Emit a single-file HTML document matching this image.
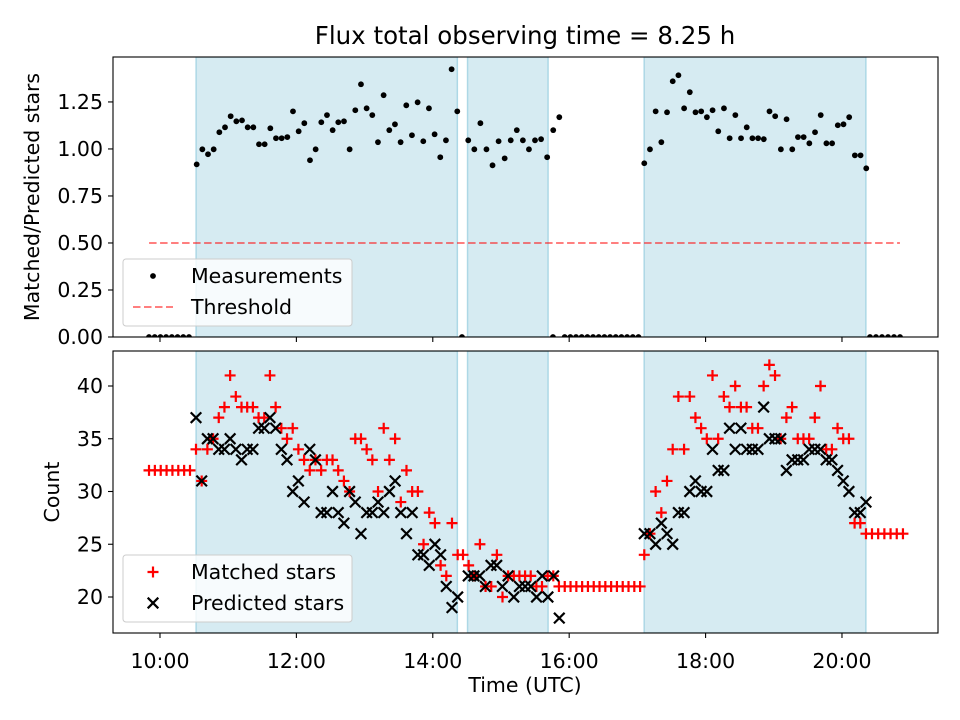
<!DOCTYPE html>
<html><head><meta charset="utf-8"><style>
html,body{margin:0;padding:0;background:#fff;}
svg{display:block;font-family:"DejaVu Sans","Liberation Sans",sans-serif;}
</style></head><body>
<svg id="chart" width="960" height="720" viewBox="0 0 960 720"></svg>
<script>
// ---- data ----
const spans = [[10.53, 14.36], [14.51, 15.69], [17.10, 20.35]];
const ratioSegments = [
  {start: 9.839, end: 10.425, values: [0,0,0,0,0,0,0,0]},
  {start: 10.538, end: 14.359, values: [0.918,0.998,0.972,0.998,1.089,1.115,1.174,1.147,1.152,1.115,1.115,1.025,1.025,1.110,1.057,1.057,1.063,1.20,1.094,1.137,0.94,0.998,1.142,1.18,1.10,1.142,1.147,0.998,1.206,1.344,1.216,1.18,1.036,1.286,1.10,1.131,1.036,1.232,1.073,1.248,1.041,1.216,1.078,0.956,1.046,1.424,1.20]},
  {start: 14.428, end: 14.428, values: [0]},
  {start: 14.520, end: 15.855, values: [1.046,0.998,1.137,0.998,0.913,1.041,0.95,1.046,1.10,1.046,0.998,1.046,1.052,0.956,1.10,1.169]},
  {start: 15.762, end: 15.762, values: [0]},
  {start: 15.934, end: 17.016, values: [0,0,0,0,0,0,0,0,0,0,0,0,0,0]},
  {start: 17.101, end: 20.356, values: [0.924,0.998,1.20,1.036,1.195,1.36,1.392,1.216,1.302,1.195,1.20,1.169,1.206,1.094,1.216,1.057,1.18,1.057,1.115,1.057,1.057,1.052,1.20,1.174,0.998,1.158,0.998,1.063,1.063,1.03,1.089,1.18,1.03,1.03,1.126,1.131,1.169,0.966,0.966,0.897]},
  {start: 20.411, end: 20.851, values: [0,0,0,0,0,0]}
];
const threshold = 0.5;
const thresholdRange = [9.84, 20.85];
const matchedSegments = [
  {start: 9.839, end: 10.44, values: [32,32,32,32,32,32,32,32]},
  {start: 10.528, end: 14.365, values: [34,31,34,35,37,38,41,39,38,38,38,37,37,41,38,36,35,36,34,33,32,33,32,33,33,32,31,30,35,35,34,33,30,36,33,35,29,32,30,30,25,28,27,23,22,27,24]},
  {start: 14.443, end: 15.767, values: [24,23,22,25,21,21,24,20,22,22,22,22,22,21,21,22,22]},
  {start: 15.85, end: 17.04, values: [21,21,21,21,21,21,21,21,21,21,21,21,21,21,21]},
  {start: 17.101, end: 20.352, values: [24,26,30,28,31,34,39,34,39,37,36,35,41,35,39,38,40,38,38,36,36,40,42,41,35,37,38,35,35,35,37,40,34,34,36,35,35,27,27,26]},
  {start: 20.44, end: 20.894, values: [26,26,26,26,26,26]}
];
const predictedSegments = [
  {start: 10.528, end: 14.365, values: [37,31,35,35,34,34,35,34,33,34,34,36,36,37,36,34,33,30,31,29,34,33,28,28,30,28,27,30,29,26,28,28,29,28,30,31,28,26,28,24,24,23,25,24,21,19,20]},
  {start: 14.52, end: 15.855, values: [22,22,22,21,23,23,21,22,20,21,21,21,20,22,20,22,18]},
  {start: 17.101, end: 20.352, values: [26,26,25,27,26,25,28,28,30,31,30,30,34,32,32,36,34,36,34,34,34,38,35,35,35,32,33,33,33,34,34,34,33,33,32,31,30,28,28,29]}
];
const xTicks = [10, 12, 14, 16, 18, 20];
const xTickLabels = ["10:00", "12:00", "14:00", "16:00", "18:00", "20:00"];
const topYTicks = [0, 0.25, 0.5, 0.75, 1.0, 1.25];
const topYTickLabels = ["0.00", "0.25", "0.50", "0.75", "1.00", "1.25"];
const botYTicks = [20, 25, 30, 35, 40];
const botYTickLabels = ["20", "25", "30", "35", "40"];

// ---- layout ----
const L = 113, R = 938;
const TT = 57, TB = 337, BT = 351, BB = 633;
const xMin = 9.311, xMax = 21.408;
const x = t => L + (t - xMin) / (xMax - xMin) * (R - L);
const yTop = v => TB - v / 1.489 * (TB - TT);
const yBot = v => 597 - (v - 20) * 10.55;
const NS = "http://www.w3.org/2000/svg";
const svg = document.getElementById('chart');
const FS = 20.5;
function mk(tag, attrs, parent) {
  const e = document.createElementNS(NS, tag);
  for (const k in attrs) e.setAttribute(k, attrs[k]);
  (parent || svg).appendChild(e);
  return e;
}
function pts(segs) {
  const out = [];
  segs.forEach(s => {
    const n = s.values.length;
    s.values.forEach((v, i) => {
      const t = n > 1 ? s.start + (s.end - s.start) * i / (n - 1) : s.start;
      out.push([t, v]);
    });
  });
  return out;
}
mk('defs', {}).innerHTML = '<clipPath id="cTop"><rect x="113" y="57" width="825" height="280"/></clipPath><clipPath id="cBot"><rect x="113" y="351" width="825" height="282"/></clipPath>';

let title = mk('text', {x: 525, y: 44, 'text-anchor': 'middle', 'font-size': 24.5, fill: '#000'});
title.textContent = 'Flux total observing time = 8.25 h';



function panel(top, bottom, name, clip) {
  const g = mk('g', {'clip-path': 'url(#' + clip + ')'});
  
  
  spans.forEach((s, i) => {
    const r = mk('rect', {x: x(s[0]), y: top, width: x(s[1]) - x(s[0]), height: bottom - top, fill: '#add8e6', 'fill-opacity': 0.5, stroke: '#add8e6', 'stroke-width': 1.5}, g);
    
    
  });
  return g;
}
const gTop = panel(TT, TB, 'top', 'cTop');
const gBot = panel(BT, BB, 'bottom', 'cBot');

const th = mk('line', {x1: x(thresholdRange[0]), x2: x(thresholdRange[1]), y1: yTop(threshold), y2: yTop(threshold), stroke: '#ff0000', 'stroke-opacity': 0.5, 'stroke-width': 2, 'stroke-dasharray': '7.5,3.5'}, gTop);



pts(ratioSegments).forEach(p => {
  const c = mk('circle', {cx: x(p[0]), cy: yTop(p[1]), r: 2.9, fill: '#000'}, gTop);
  
  
});
pts(matchedSegments).forEach(p => {
  const cx = x(p[0]), cy = yBot(p[1]);
  const pth = mk('path', {d: `M${cx-5.5},${cy}H${cx+5.5}M${cx},${cy-5.5}V${cy+5.5}`, stroke: '#ff0000', 'stroke-width': 2.2}, gBot);
  
  
});
pts(predictedSegments).forEach(p => {
  const cx = x(p[0]), cy = yBot(p[1]);
  const pth = mk('path', {d: `M${cx-5.3},${cy-5.3}L${cx+5.3},${cy+5.3}M${cx-5.3},${cy+5.3}L${cx+5.3},${cy-5.3}`, stroke: '#000', 'stroke-width': 2.2}, gBot);
  
  
});

function frame(top, bottom, name) {
  const r = mk('rect', {x: L, y: top, width: R - L, height: bottom - top, fill: 'none', stroke: '#000', 'stroke-width': 1.1});
  
  
}
frame(TT, TB, 'top');
frame(BT, BB, 'bottom');

xTicks.forEach((t, i) => {
  const a = mk('line', {x1: x(t), x2: x(t), y1: TB, y2: TB + 5, stroke: '#000', 'stroke-width': 1.1});
  
  
  const b = mk('line', {x1: x(t), x2: x(t), y1: BB, y2: BB + 5, stroke: '#000', 'stroke-width': 1.1});
  
  
  const l = mk('text', {x: x(t), y: BB + 35, 'text-anchor': 'middle', 'font-size': FS});
  l.textContent = xTickLabels[i];
  
  
});
topYTicks.forEach((v, i) => {
  const a = mk('line', {x1: L - 5, x2: L, y1: yTop(v), y2: yTop(v), stroke: '#000', 'stroke-width': 1.1});
  
  
  const l = mk('text', {x: L - 10, y: yTop(v) + 7, 'text-anchor': 'end', 'font-size': FS});
  l.textContent = topYTickLabels[i];
  
  
});
botYTicks.forEach((v, i) => {
  const a = mk('line', {x1: L - 5, x2: L, y1: yBot(v), y2: yBot(v), stroke: '#000', 'stroke-width': 1.1});
  
  
  const l = mk('text', {x: L - 10, y: yBot(v) + 7, 'text-anchor': 'end', 'font-size': FS});
  l.textContent = botYTickLabels[i];
  
  
});

let t1 = mk('text', {x: 0, y: 0, 'text-anchor': 'middle', 'font-size': FS, transform: 'translate(39,197) rotate(-90)'});
t1.textContent = 'Matched/Predicted stars';


let t2 = mk('text', {x: 0, y: 0, 'text-anchor': 'middle', 'font-size': FS, transform: 'translate(59,492) rotate(-90)'});
t2.textContent = 'Count';


let t3 = mk('text', {x: 525, y: 692, 'text-anchor': 'middle', 'font-size': FS});
t3.textContent = 'Time (UTC)';



function legend(y0, name, entries) {
  const g = mk('g', {});
  
  
  mk('rect', {x: 123, y: y0, width: 229, height: 67, rx: 3, fill: '#fff', 'fill-opacity': 0.8, stroke: '#ccc', 'stroke-width': 1}, g);
  entries.forEach((e, i) => {
    const cy = y0 + 17 + i * 31;
    const eg = mk('g', {}, g);
    
    
    e.draw(eg, 153, cy);
    const tx = mk('text', {x: 191, y: cy + 7, 'font-size': FS}, eg);
    tx.textContent = e.label;
  });
}
legend(259, 'top-legend', [
  {label: 'Measurements', draw: (g, cx, cy) => mk('circle', {cx: cx, cy: cy, r: 2.9, fill: '#000'}, g)},
  {label: 'Threshold', draw: (g, cx, cy) => mk('line', {x1: cx - 20, x2: cx + 20, y1: cy, y2: cy, stroke: '#ff0000', 'stroke-opacity': 0.5, 'stroke-width': 2, 'stroke-dasharray': '7.5,3.5'}, g)}
]);
legend(555, 'bottom-legend', [
  {label: 'Matched stars', draw: (g, cx, cy) => mk('path', {d: `M${cx-5.5},${cy}H${cx+5.5}M${cx},${cy-5.5}V${cy+5.5}`, stroke: '#ff0000', 'stroke-width': 2.2}, g)},
  {label: 'Predicted stars', draw: (g, cx, cy) => mk('path', {d: `M${cx-5.3},${cy-5.3}L${cx+5.3},${cy+5.3}M${cx-5.3},${cy+5.3}L${cx+5.3},${cy-5.3}`, stroke: '#000', 'stroke-width': 2.2}, g)}
]);
</script>
</body></html>
